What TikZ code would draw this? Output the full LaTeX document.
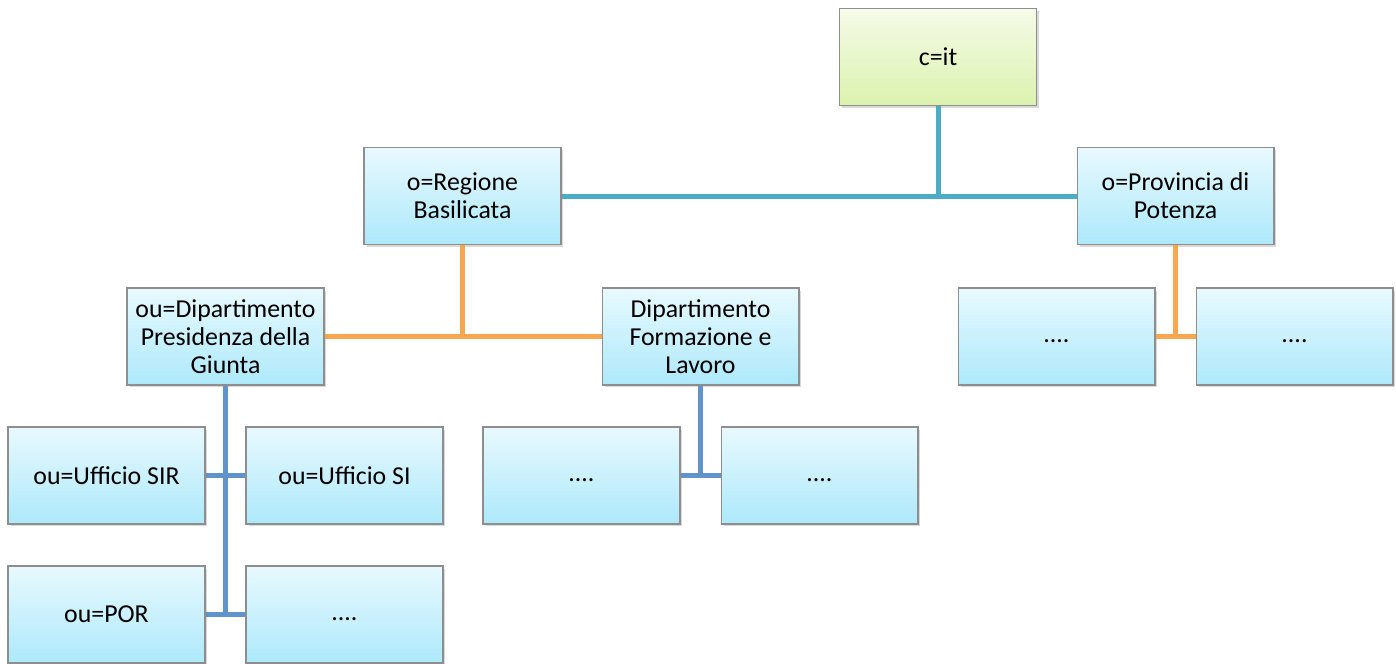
\documentclass[tikz,border=0pt]{standalone}
\usepackage{fontspec}
\setmainfont{Carlito}
\usetikzlibrary{shadows}
\definecolor{boxtop}{HTML}{E8F9FE}
\definecolor{boxbot}{HTML}{ADE9FB}
\definecolor{roottop}{HTML}{F5FBE8}
\definecolor{rootbot}{HTML}{DBF2AE}
\definecolor{boxline}{HTML}{8E8E8E}
\definecolor{tealline}{HTML}{4BACC6}
\definecolor{orangeline}{HTML}{F9A650}
\definecolor{blueline}{HTML}{5F93C9}
\begin{document}
\begin{tikzpicture}[x=0.02cm,y=-0.02cm]
   \useasboundingbox (0,0) rectangle (1396,663);
   \begin{scope}[every node/.style={draw=boxline,line width=0.6pt,top color=boxtop,bottom color=boxbot,
      minimum width=3.94cm,minimum height=1.94cm,inner sep=0pt,align=center,
      font=\fontsize{14.7}{16}\selectfont,
      drop shadow={shadow xshift=0.05cm,shadow yshift=-0.05cm,opacity=0.3}}]
    \node[top color=roottop,bottom color=rootbot] (root) at (938,57) {c=it};
    \node (regione) at (462.5,196) {o=Regione\\Basilicata};
    \node (provincia) at (1175.5,196) {o=Provincia di\\Potenza};
    \node (presid) at (225.5,336.5) {ou=Dipartimento\\Presidenza della\\Giunta};
    \node (formaz) at (700.5,336.5) {Dipartimento\\Formazione e\\Lavoro};
    \node (pv1) at (1056.5,336.5) {\vphantom{Ag}....};
    \node (pv2) at (1294.5,336.5) {\vphantom{Ag}....};
    \node (sir) at (106.5,475.5) {ou=Ufficio SIR};
    \node (si) at (344.5,475.5) {ou=Ufficio SI};
    \node (fl1) at (581.5,475.5) {\vphantom{Ag}....};
    \node (fl2) at (819.5,475.5) {\vphantom{Ag}....};
    \node (por) at (106.5,614.5) {ou=POR};
    \node (pr4) at (344.5,614.5) {\vphantom{Ag}....};
   \end{scope}
   \coordinate (j1) at (938,196);
   \coordinate (j2) at (462.5,336.5);
   \coordinate (j3) at (1175.5,336.5);
   \coordinate (j4) at (700.5,475.5);
   \coordinate (j5) at (225.5,614.5);
   \begin{scope}[line width=0.1cm]
    \draw[tealline] (regione) -- (provincia);
    \draw[tealline] (root) -- (j1);
    \draw[orangeline] (presid) -- (formaz);
    \draw[orangeline] (regione) -- (j2);
    \draw[orangeline] (pv1) -- (pv2);
    \draw[orangeline] (provincia) -- (j3);
    \draw[blueline] (fl1) -- (fl2);
    \draw[blueline] (formaz) -- (j4);
    \draw[blueline] (sir) -- (si);
    \draw[blueline] (por) -- (pr4);
    \draw[blueline] (presid) -- (j5);
   \end{scope}
\end{tikzpicture}
\end{document}
